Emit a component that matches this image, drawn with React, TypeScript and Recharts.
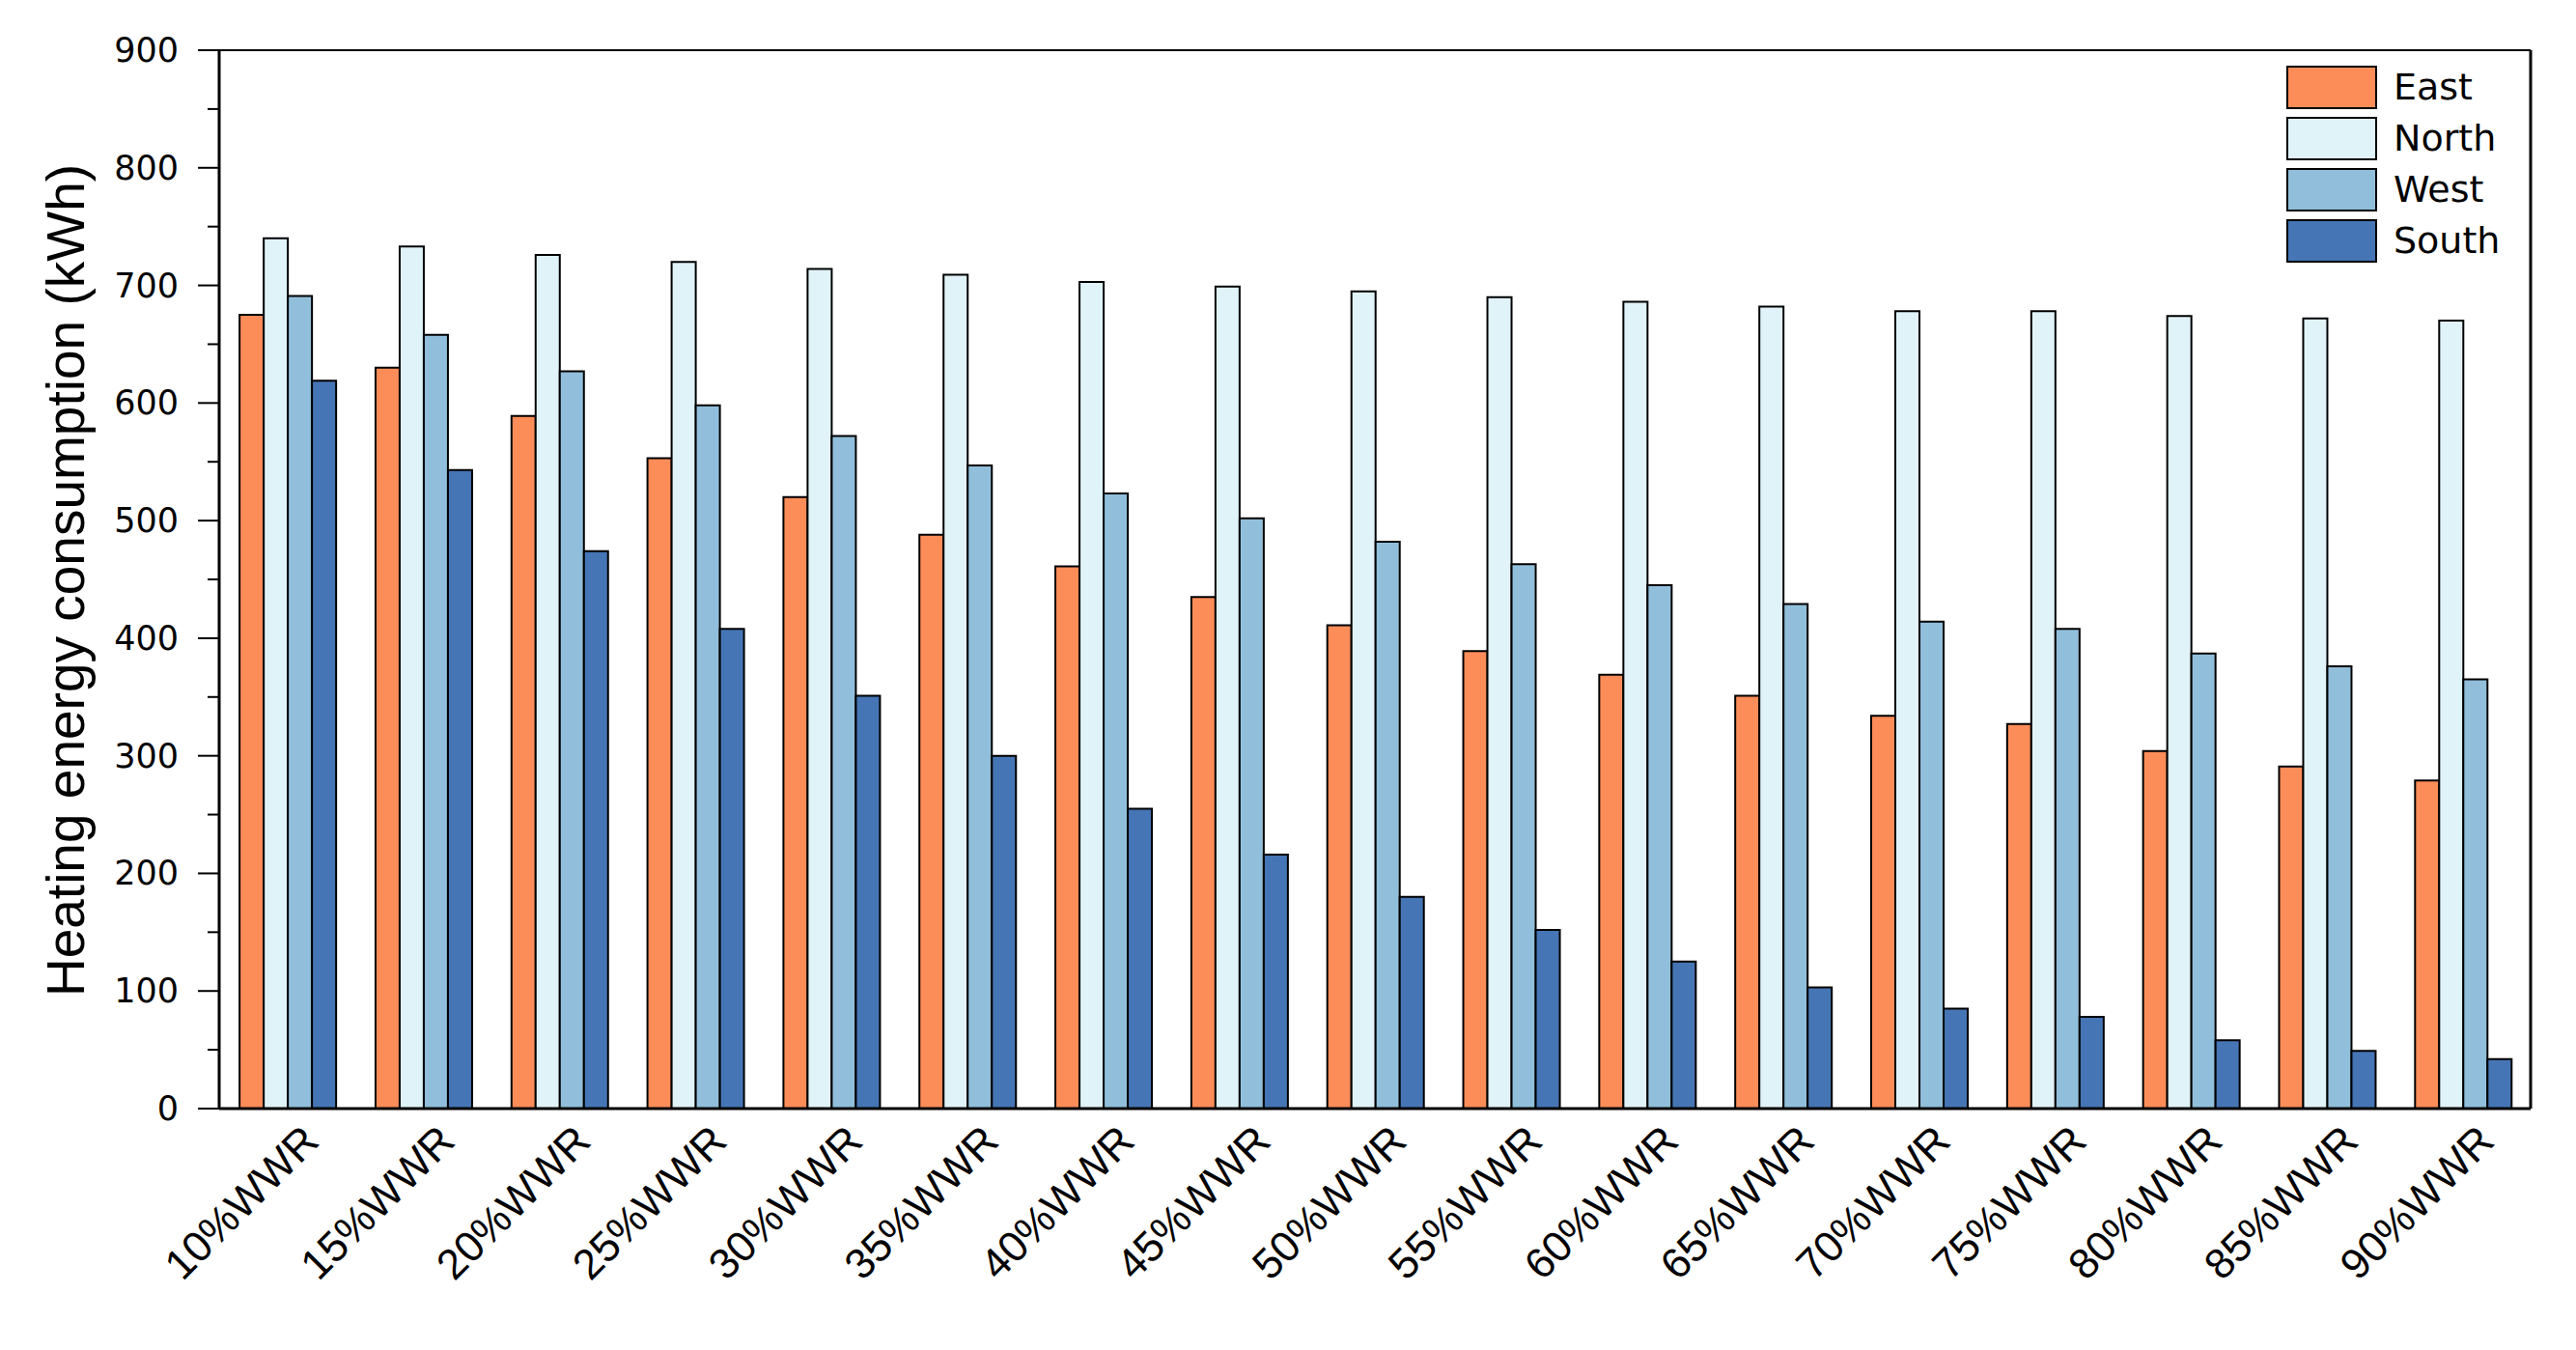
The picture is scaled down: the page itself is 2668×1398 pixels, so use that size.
import React from 'react';
import { BarChart, Bar, XAxis, YAxis, ReferenceLine } from 'recharts';

const categories = ['10%WWR','15%WWR','20%WWR','25%WWR','30%WWR','35%WWR','40%WWR','45%WWR','50%WWR','55%WWR','60%WWR','65%WWR','70%WWR','75%WWR','80%WWR','85%WWR','90%WWR'];
const east  = [675, 630, 589, 553, 520, 488, 461, 435, 411, 389, 369, 351, 334, 327, 304, 291, 279];
const north = [740, 733, 726, 720, 714, 709, 703, 699, 695, 690, 686, 682, 678, 678, 674, 672, 670];
const west  = [691, 658, 627, 598, 572, 547, 523, 502, 482, 463, 445, 429, 414, 408, 387, 376, 365];
const south = [619, 543, 474, 408, 351, 300, 255, 216, 180, 152, 125, 103, 85, 78, 58, 49, 42];
const yTicks = [0, 50, 100, 150, 200, 250, 300, 350, 400, 450, 500, 550, 600, 650, 700, 750, 800, 850, 900];

const seriesNames = ['East', 'North', 'West', 'South'];
const seriesColors = ['#FC8D59', '#E0F3F8', '#91BFDB', '#4575B4'];

const data = categories.map((c, i) => ({ name: c, East: east[i], North: north[i], West: west[i], South: south[i] }));

const YTick = (props: any) => {
  const { x, y, payload } = props;
  const major = payload.value % 100 === 0;
  return (
    <g>
      <line x1={x - (major ? 22 : 12)} x2={x} y1={y} y2={y} stroke="#000" strokeWidth={2} />
      {major && (
        <text x={x - 42} y={y} dy={12} textAnchor="end" fontFamily="DejaVu Sans" fontSize={35} fill="#000">
          {payload.value}
        </text>
      )}
    </g>
  );
};

const XTick = (props: any) => {
  const { x, y, payload } = props;
  const tx = x + 35;
  const ty = y + 36;
  return (
    <text x={tx} y={ty} textAnchor="end" transform={`rotate(-45, ${tx}, ${ty})`} fontFamily="Liberation Sans" fontSize={44} fill="#000">
      {payload.value}
    </text>
  );
};

const LegendBox = () => (
  <div style={{ position: 'absolute', left: 2360, top: 60, display: 'flex', flexDirection: 'column', gap: 8 }}>
    {seriesNames.map((n, i) => (
      <div key={n} style={{ display: 'flex', alignItems: 'center', height: 45 }}>
        <div style={{ width: 90, height: 41, background: seriesColors[i], border: '2px solid #000' }} />
        <span style={{ marginLeft: 17, fontFamily: 'DejaVu Sans', fontSize: 38, color: '#000', lineHeight: '45px' }}>{n}</span>
      </div>
    ))}
  </div>
);

export default function App() {
  return (
    <div style={{ width: 2652, height: 1382, position: 'relative', background: '#fff' }}>
      <BarChart
        width={2652}
        height={1382}
        data={data}
        margin={{ top: 43, right: 38, bottom: 0, left: 0 }}
        barCategoryGap="15%"
        barGap={0}
      >
        <XAxis dataKey="name" xAxisId={0} tick={<XTick />} tickLine={false} tickSize={0} tickMargin={0} height={242} interval={0} axisLine={{ stroke: '#000', strokeWidth: 3 }} />
        <XAxis dataKey="name" xAxisId="top" orientation="top" tick={false} tickLine={false} height={1} axisLine={{ stroke: '#000', strokeWidth: 2 }} />
        <YAxis yAxisId={0} domain={[0, 900]} ticks={yTicks} interval={0} tick={<YTick />} tickLine={false} tickSize={0} tickMargin={0} width={219} axisLine={{ stroke: '#000', strokeWidth: 3 }}
          label={{ value: 'Heating energy consumption (kWh)', angle: -90, position: 'center', content: () => (
            <text x={60} y={593} textAnchor="middle" dominantBaseline="central" transform="rotate(-90, 60, 593)" fontFamily="Liberation Sans" fontSize={55} fill="#000">
              Heating energy consumption (kWh)
            </text>
          ) }}
        />
        <YAxis yAxisId="right" orientation="right" domain={[0, 900]} tick={false} tickLine={false} width={1} axisLine={{ stroke: '#000', strokeWidth: 3 }} />
        {seriesNames.map((n, i) => (
          <Bar key={n} dataKey={n} xAxisId={0} yAxisId={0} fill={seriesColors[i]} stroke="#000" strokeWidth={2} isAnimationActive={false} />
        ))}
        <Bar dataKey="frame" xAxisId="top" yAxisId="right" fill="none" isAnimationActive={false} legendType="none" />
        <ReferenceLine y={900} xAxisId={0} yAxisId={0} stroke="#000" strokeWidth={2} />
      </BarChart>
      <LegendBox />
    </div>
  );
}
